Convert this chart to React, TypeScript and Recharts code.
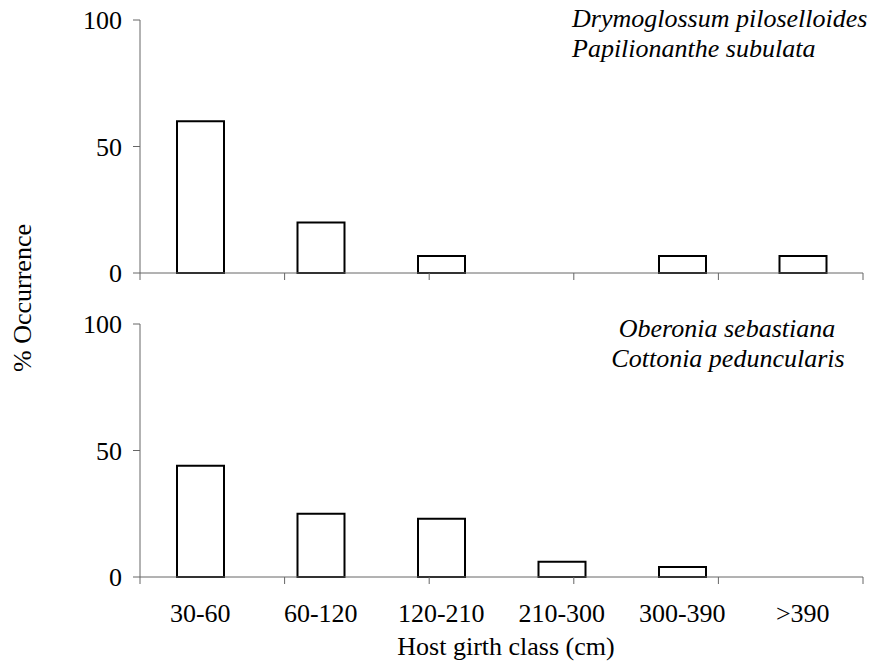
import { BarChart, Bar, XAxis, YAxis } from "recharts";

const girthClasses = ["30-60", "60-120", "120-210", "210-300", "300-390", ">390"];
const topValues = [60, 20, 6.7, 0, 6.7, 6.7];
const bottomValues = [44, 25, 23, 6, 4, 0];
const yTicks = [0, 50, 100];
const edgeTicks = [0, 1, 2, 3, 4, 5, 6];
const topSpecies = ["Drymoglossum piloselloides", "Papilionanthe subulata"];
const bottomSpecies = ["Oberonia sebastiana", "Cottonia peduncularis"];

const FONT = '"Liberation Serif", "Times New Roman", serif';
const AXIS = "#666";

const topData = girthClasses.map((name, i) => ({ name, value: topValues[i] }));
const bottomData = girthClasses.map((name, i) => ({ name, value: bottomValues[i] }));

function Panel({ data, height, margin, showLabels }: any) {
  return (
    <BarChart width={874} height={height} data={data} margin={margin}>
      {/* numeric ids keep the boundary-tick axis nearest the plot */}
      <XAxis
        xAxisId={0}
        type="number"
        domain={[0, 6]}
        ticks={edgeTicks}
        interval={0}
        allowDataOverflow
        height={1}
        tickSize={7}
        tickFormatter={() => ""}
        stroke={AXIS}
        tickLine={{ stroke: AXIS }}
      />
      <XAxis
        xAxisId={1}
        dataKey="name"
        hide={!showLabels}
        height={showLabels ? 85 : 0}
        axisLine={false}
        tickLine={false}
        tickSize={0}
        tickMargin={26}
        interval={0}
        tick={{ fill: "#000", fontSize: 26, fontFamily: FONT }}
      />
      <YAxis
        domain={[0, 100]}
        ticks={yTicks}
        interval={0}
        width={140}
        tickSize={7}
        tickMargin={11}
        stroke={AXIS}
        tick={{ fill: "#000", fontSize: 26, fontFamily: FONT }}
      />
      <Bar xAxisId={1} dataKey="value" fill="#fff" stroke="#000" strokeWidth={2} barSize={47} isAnimationActive={false} />
    </BarChart>
  );
}

export default function App() {
  return (
    <div style={{ position: "absolute", left: 0, top: 0, width: 874, height: 663, background: "#fff" }}>
      <div style={{ position: "absolute", left: 0, top: 0 }}>
        <Panel data={topData} height={296} margin={{ top: 20, right: 11, bottom: 22, left: 0 }} showLabels={false} />
      </div>
      <div style={{ position: "absolute", left: 0, top: 300 }}>
        <Panel data={bottomData} height={363} margin={{ top: 24, right: 11, bottom: 0, left: 0 }} showLabels />
      </div>
      <svg width={874} height={663} style={{ position: "absolute", left: 0, top: 0, pointerEvents: "none" }}>
        <g fontFamily={FONT} fontStyle="italic" fontSize={26} fill="#000">
          <text x={572} y={27}>{topSpecies[0]}</text>
          <text x={572} y={57}>{topSpecies[1]}</text>
          <text x={727} y={337} textAnchor="middle">{bottomSpecies[0]}</text>
          <text x={728} y={367} textAnchor="middle">{bottomSpecies[1]}</text>
        </g>
        <text x={31} y={298} transform="rotate(-90 31 298)" textAnchor="middle" fontFamily={FONT} fontSize={26} fill="#000">
          % Occurrence
        </text>
        <text x={506} y={655} textAnchor="middle" fontFamily={FONT} fontSize={26} fill="#000">
          Host girth class (cm)
        </text>
      </svg>
    </div>
  );
}
